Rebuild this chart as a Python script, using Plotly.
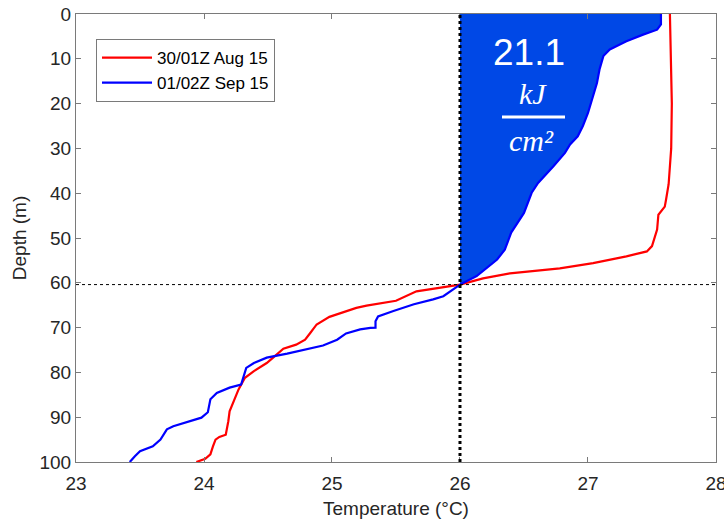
import plotly.graph_objects as go

# ---- data ----
red_label = "30/01Z Aug 15"
red_depth = [0, 10, 20, 30, 38, 41.4, 43, 44.8, 48.1, 51.8, 53.0, 54.1, 55.6, 56.8, 57.9, 59.0, 60.4,
             61.9, 63.0, 64.0, 65.1, 65.6, 67.6, 69.3, 71.2, 72.7, 73.8, 74.7, 76.7, 77.9, 79.7,
             81.2, 83.8, 86.4, 88.7, 90.9, 93.9, 94.4, 95.0, 96.5, 98.3, 99.3, 100]
red_temp = [27.64, 27.65, 27.655, 27.65, 27.63, 27.61, 27.60, 27.55, 27.54, 27.50, 27.46, 27.30, 27.04, 26.78, 26.39, 26.18, 26.0,
            25.66, 25.58, 25.50, 25.27, 25.19, 24.98, 24.88, 24.83, 24.79, 24.72, 24.62, 24.54, 24.49, 24.39,
            24.32, 24.27, 24.23, 24.20, 24.19, 24.17, 24.12, 24.09, 24.07, 24.05, 24.01, 23.94]

blue_label = "01/02Z Sep 15"
blue_depth = [0, 2.3, 3.5, 4.6, 6.1, 7.9, 9.4, 12.4, 15.4, 18.3, 22.1, 25.0, 27.3, 29.1, 31.0, 34.0,
              37.7, 39.9, 44.4, 48.8, 52.6, 54.8, 56.7, 58.5, 60.4,
              61.9, 63.0, 63.7, 64.8, 66.3, 67.5, 68.6, 70.0, 70.05, 70.4, 71.3, 72.7, 74.0, 74.9,
              75.8, 76.7, 77.9, 79.0, 80.8, 82.7, 83.4, 84.6, 86.0, 88.9, 90.1, 91.1, 92.0, 92.7,
              95.0, 96.5, 97.6, 98.7, 100]
blue_temp = [27.57, 27.57, 27.54, 27.43, 27.30, 27.17, 27.12, 27.09, 27.07, 27.04, 27.00, 26.96, 26.92, 26.86, 26.82, 26.73,
             26.61, 26.56, 26.50, 26.40, 26.35, 26.29, 26.21, 26.13, 26.0,
             25.92, 25.87, 25.79, 25.64, 25.48, 25.36, 25.34, 25.34, 25.30, 25.22, 25.11, 25.04, 24.93, 24.80,
             24.65, 24.49, 24.39, 24.33, 24.31, 24.29, 24.20, 24.10, 24.05, 24.03, 23.98, 23.86, 23.76, 23.71,
             23.66, 23.60, 23.50, 23.46, 23.42]

isotherm = 26.0          # °C
isotherm_depth = 60.4    # m
heat_value = "21.1"
x_ticks = [23, 24, 25, 26, 27, 28]
y_ticks = [0, 10, 20, 30, 40, 50, 60, 70, 80, 90, 100]

# ---- figure ----
fig = go.Figure()

# filled ocean heat content area (between 26°C isotherm and blue profile above its depth)
fill_d = [d for d in blue_depth if d <= isotherm_depth]
fill_t = blue_temp[:len(fill_d)]
fig.add_trace(go.Scatter(
    x=[isotherm] + fill_t + [isotherm], y=[0] + fill_d + [0],
    fill="toself", fillcolor="rgb(0,72,230)", mode="none",
    showlegend=False, hoverinfo="skip"))

fig.add_trace(go.Scatter(x=red_temp, y=red_depth, mode="lines", name=red_label,
                         line=dict(color="rgb(255,0,0)", width=2.2)))
fig.add_trace(go.Scatter(x=blue_temp, y=blue_depth, mode="lines", name=blue_label,
                         line=dict(color="rgb(0,0,255)", width=2.2)))

# reference lines
fig.add_shape(type="line", xref="x", yref="paper", x0=isotherm, x1=isotherm, y0=0, y1=1,
              line=dict(color="black", width=3, dash="dot"), layer="above")
fig.add_shape(type="line", xref="paper", yref="paper", x0=0, x1=1,
              y0=1 - isotherm_depth / 100, y1=1 - isotherm_depth / 100,
              line=dict(color="black", width=1, dash="3px,3px"), layer="above")

FW, FH = 724, 523
L, T, W, H = 76, 14, 640, 448   # plot area in pixels


def px(xp):
    return (xp - L) / W


def py(yp):
    return 1 - (yp - T) / H


ann = dict(xref="paper", yref="paper", showarrow=False, xanchor="center", yanchor="middle")
fig.add_annotation(x=px(529), y=py(52), text=heat_value,
                   font=dict(family="Liberation Sans, Arial", size=37, color="white"), **ann)
fig.add_annotation(x=px(533), y=py(93), text="<i>kJ</i>",
                   font=dict(family="Liberation Serif, serif", size=30, color="white"), **ann)
fig.add_shape(type="line", xref="paper", yref="paper", x0=px(502), x1=px(565), y0=py(117), y1=py(117),
              line=dict(color="white", width=3))
fig.add_annotation(x=px(531), y=py(140), text="<i>cm²</i>",
                   font=dict(family="Liberation Serif, serif", size=30, color="white"), **ann)

axis_common = dict(showline=True, linecolor="#7a7a7a", linewidth=1, mirror="ticks",
                   ticks="inside", ticklen=5, tickcolor="#7a7a7a", showgrid=False, zeroline=False,
                   automargin=False, ticklabeloverflow="allow",
                   tickfont=dict(family="Liberation Sans, Arial", size=19, color="#262626"))

fig.update_layout(
    width=FW, height=FH,
    margin=dict(l=L, r=FW - L - W, t=T, b=FH - T - H, autoexpand=False),
    plot_bgcolor="white", paper_bgcolor="white",
    font=dict(family="Liberation Sans, Arial", color="#262626"),
    xaxis=dict(range=[23, 28.0001], tickvals=x_ticks, ticklabelstandoff=4,
               title=dict(text="Temperature (°C)", font=dict(size=19, color="#262626"), standoff=8),
               **axis_common),
    yaxis=dict(range=[100, -0.0001], tickvals=y_ticks,
               title=dict(text="Depth (m)", font=dict(size=19, color="#262626"), standoff=7),
               **axis_common),
    legend=dict(x=px(96), y=py(39), xanchor="left", yanchor="top",
                bgcolor="white", bordercolor="#7a7a7a", borderwidth=1,
                font=dict(family="Liberation Sans, Arial", size=17, color="black"),
                itemwidth=50, tracegroupgap=0),
    showlegend=True,
)

fig.write_html("out.html", config={"displayModeBar": False},
               post_script="document.body.style.margin='0';document.body.style.overflow='hidden';")
